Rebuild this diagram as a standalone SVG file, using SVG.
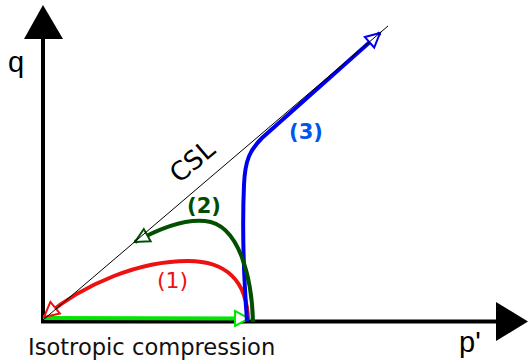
<svg xmlns="http://www.w3.org/2000/svg" width="528" height="364" viewBox="0 0 528 364">
<style>
.ax{stroke:#000;stroke-width:4;fill:none}
.c{fill:none;stroke-width:4;stroke-linecap:butt}
.lbl{font-family:"DejaVu Sans",sans-serif}
.axl{font-family:"Liberation Sans",Arial,sans-serif;font-size:29px;fill:#000}
</style>
<defs>
<marker id="mG" markerUnits="userSpaceOnUse" viewBox="0 0 18 18" markerWidth="18" markerHeight="18" refX="16" refY="9" orient="auto"><path d="M2,1.5 L16,9 L2,16.5 z" fill="#fff" stroke="#00e600" stroke-width="2"/></marker>
<marker id="mR" markerUnits="userSpaceOnUse" viewBox="0 0 18 18" markerWidth="18" markerHeight="18" refX="16" refY="9" orient="auto"><path d="M1.5,1.5 L16,9 L1.5,16.5 z" fill="#fff" stroke="#ee1111" stroke-width="2"/></marker>
<marker id="mD" markerUnits="userSpaceOnUse" viewBox="0 0 18 18" markerWidth="18" markerHeight="18" refX="16" refY="9" orient="auto"><path d="M2,2 L16,9 L2,16 z" fill="#fff" stroke="#005000" stroke-width="2"/></marker>
<marker id="mB" markerUnits="userSpaceOnUse" viewBox="0 0 18 18" markerWidth="18" markerHeight="18" refX="16" refY="9" orient="auto"><path d="M2,2 L16,9 L2,16 z" fill="#fff" stroke="#0000ee" stroke-width="2"/></marker>
</defs>
<g id="axes">
<line class="ax" x1="43" y1="323" x2="43" y2="38"/>
<polygon points="43,5 24,39 63,39" fill="#000"/>
<line class="ax" x1="41" y1="321.5" x2="497" y2="321.5"/>
<polygon points="528,321.5 496,302 496,341" fill="#000"/>
</g>
<g id="connectors">
<path id="iso" class="c" d="M43,318 L249,318.5" stroke="#00e600" stroke-width="5" marker-end="url(#mG)"/>
<path id="p1" class="c" d="M248,320 C247,280 225,261 188,261 C140,261 85,283 44,317" stroke="#ee1111" stroke-width="3.5" marker-end="url(#mR)"/>
<path id="p3" class="c" d="M247,321 C244,280 242,230 244,185 C245,160 250,150 262,138 L380,33" stroke="#0000ee" marker-end="url(#mB)"/>
<path id="p2" class="c" d="M253,322 C252,280 240,224 205,221 C185,219 160,228 135,242" stroke="#005000" marker-end="url(#mD)"/>
<line id="csl" x1="43" y1="320" x2="388" y2="26" stroke="#000" stroke-width="1"/>
</g>
<g id="labels">
<text class="axl" x="8" y="72">q</text>
<text class="axl" x="459" y="352">p'</text>
<text class="lbl" x="28" y="355" font-size="22.6" fill="#111">Isotropic compression</text>
<text class="lbl" font-size="26" fill="#000" transform="translate(198,168) rotate(-40.4)" text-anchor="middle">CSL</text>
<text class="lbl" x="172.5" y="288" font-size="22" fill="#ee1111" text-anchor="middle">(1)</text>
<text class="lbl" x="204" y="213" font-size="21" font-weight="bold" fill="#004d00" text-anchor="middle">(2)</text>
<text class="lbl" x="306" y="139" font-size="21" font-weight="bold" fill="#0055ee" text-anchor="middle">(3)</text>
</g>
</svg>
